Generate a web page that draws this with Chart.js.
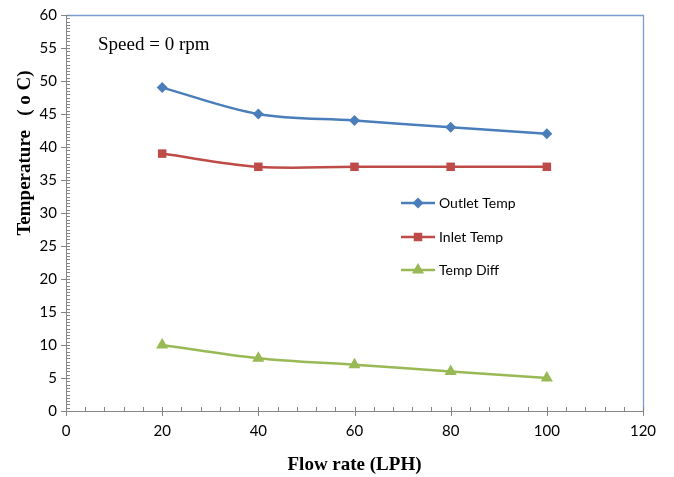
<!DOCTYPE html>
<html><head><meta charset="utf-8">
<script src="https://cdn.jsdelivr.net/npm/chart.js@4"></script>
<style>html,body{margin:0;padding:0;background:#fff}canvas{display:block}</style>
</head><body>
<canvas id="c" width="674" height="477"></canvas>
<script>
const flowRates = [20, 40, 60, 80, 100];
const outletTemp = [49, 45, 44, 43, 42];
const inletTemp = [39, 37, 37, 37, 37];
const tempDiff = [10, 8, 7, 6, 5];
const seriesNames = ['Outlet Temp', 'Inlet Temp', 'Temp Diff'];
const xTitle = 'Flow rate (LPH)';
const yTitle = 'Temperature   ( o C)';
const note = 'Speed = 0 rpm';

const colors = ['#4a7ebb', '#be4b48', '#98b954'];
const shapes = ['rectRot', 'rect', 'triangle'];
const radii = [5.5, 6, 7];
const mk = (vals) => flowRates.map((x, i) => ({x, y: vals[i]}));
const datasets = [outletTemp, inletTemp, tempDiff].map((v, i) => ({
  label: seriesNames[i], data: mk(v), showLine: true,
  borderColor: colors[i], backgroundColor: colors[i], borderWidth: 2.5,
  pointStyle: shapes[i], pointRadius: radii[i], pointHoverRadius: radii[i],
  pointBorderWidth: 0,
  tension: 0.35
}));

const decor = {
  id: 'decor',
  beforeDatasetsDraw(chart) {
    const {ctx, chartArea: a, scales: {x, y}} = chart;
    ctx.save();
    ctx.strokeStyle = '#7a9cd0'; ctx.lineWidth = 1.3;
    ctx.beginPath(); ctx.moveTo(a.left, a.top + 0.5); ctx.lineTo(a.right + 0.5, a.top + 0.5); ctx.lineTo(a.right + 0.5, a.bottom); ctx.stroke();
    ctx.strokeStyle = '#868686'; ctx.lineWidth = 1;
    ctx.beginPath(); ctx.moveTo(a.left + 0.5, a.top); ctx.lineTo(a.left + 0.5, a.bottom + 0.5); ctx.lineTo(a.right, a.bottom + 0.5); ctx.stroke();
    ctx.beginPath();
    for (let v = 0; v <= 60.001; v += 0.5) {
      const py = Math.round(y.getPixelForValue(v)) + 0.5;
      ctx.moveTo(a.left, py); ctx.lineTo(a.left + 4, py);
    }
    for (let v = 0; v <= 120.001; v += 4) {
      const px = Math.round(x.getPixelForValue(v)) + 0.5;
      ctx.moveTo(px, a.bottom); ctx.lineTo(px, a.bottom - 4);
    }
    for (let v = 0; v <= 60; v += 5) {
      const py = Math.round(y.getPixelForValue(v)) + 0.5;
      ctx.moveTo(a.left - 5, py); ctx.lineTo(a.left, py);
    }
    for (let v = 0; v <= 120; v += 20) {
      const px = Math.round(x.getPixelForValue(v)) + 0.5;
      ctx.moveTo(px, a.bottom); ctx.lineTo(px, a.bottom + 5);
    }
    ctx.stroke();
    ctx.restore();
  },
  afterDraw(chart) {
    const {ctx, chartArea: a} = chart;
    ctx.save();
    ctx.fillStyle = '#000';
    ctx.font = '19px "Liberation Serif", "Times New Roman", serif';
    ctx.textAlign = 'left'; ctx.textBaseline = 'alphabetic';
    ctx.fillText(note, 98, 50);
    ctx.font = 'bold 19px "Liberation Serif", "Times New Roman", serif';
    ctx.textAlign = 'center'; ctx.textBaseline = 'middle';
    ctx.fillText(xTitle, (a.left + a.right) / 2, 465);
    ctx.translate(25, 153); ctx.rotate(-Math.PI / 2);
    ctx.fillText(yTitle, 0, 0);
    ctx.restore();
    ctx.save();
    ctx.font = '14px Lato, "Open Sans", sans-serif';
    ctx.textBaseline = 'middle'; ctx.textAlign = 'left';
    const rows = [203, 237, 270];
    chart.data.datasets.forEach((ds, i) => {
      const yy = rows[i];
      ctx.strokeStyle = ds.borderColor; ctx.lineWidth = 2.5;
      ctx.beginPath(); ctx.moveTo(401, yy); ctx.lineTo(435, yy); ctx.stroke();
      ctx.fillStyle = ds.backgroundColor;
      Chart.helpers.drawPoint(ctx, {pointStyle: ds.pointStyle, radius: ds.pointRadius, borderWidth: 0}, 418, yy);
      ctx.fillStyle = '#000';
      ctx.fillText(ds.label, 439, yy);
    });
    ctx.restore();
  }
};

new Chart(document.getElementById('c'), {
  type: 'scatter',
  data: {datasets},
  options: {
    responsive: false, animation: false,
    layout: {padding: {top: 15, right: 31, left: 0, bottom: 0}},
    plugins: {legend: {display: false}, tooltip: {enabled: false}},
    scales: {
      x: {
        type: 'linear', min: 0, max: 120,
        ticks: {stepSize: 20, color: '#000', font: {family: 'Lato', size: 15}, padding: 11},
        grid: {display: false, drawTicks: false},
        border: {display: false},
        afterFit(s) { s.height = 66; s.paddingLeft = 0; s.paddingRight = 0; }
      },
      y: {
        type: 'linear', min: 0, max: 60,
        ticks: {stepSize: 5, color: '#000', font: {family: 'Lato', size: 15}, padding: 9},
        grid: {display: false, drawTicks: false},
        border: {display: false},
        afterFit(s) { s.width = 66; s.paddingTop = 0; s.paddingBottom = 0; }
      }
    }
  },
  plugins: [decor]
});
</script>
</body></html>
